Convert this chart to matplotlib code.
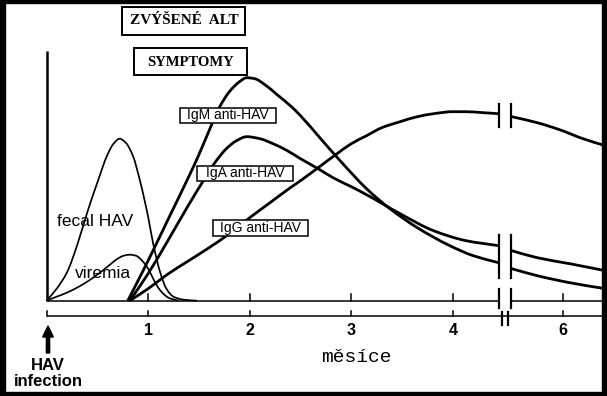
import numpy as np
import matplotlib
matplotlib.use("Agg")
import matplotlib.pyplot as plt
from matplotlib.path import Path
from matplotlib.patches import PathPatch, Rectangle, FancyArrow

# ---------------- data (x in months on the drawn axis, y in relative level) ---------------
fecal_x = [0, 0.1, 0.2, 0.3, 0.4, 0.5, 0.6, 0.66, 0.72, 0.78, 0.85, 0.92, 1.0, 1.05, 1.12, 1.18, 1.25, 1.35, 1.48]
fecal_y = [0, 12, 28, 55, 88, 118, 146, 157, 162, 158, 145, 120, 84, 57, 28, 12, 4, 1, 0]

viremia_x = [0, 0.1, 0.2, 0.3, 0.4, 0.5, 0.6, 0.7, 0.76, 0.82, 0.88, 0.95, 1.0, 1.05, 1.1, 1.15, 1.2, 1.3]
viremia_y = [0, 4, 8, 13, 19, 26, 34, 42, 45, 46, 45, 39, 32, 22, 13, 7, 3, 0]

igm_x = [0.8, 1.0, 1.2, 1.4, 1.5, 1.6, 1.7, 1.8, 1.9, 1.97, 2.05, 2.15, 2.27, 2.4, 2.5, 2.69, 2.89, 3.15, 3.38, 3.65, 3.97, 4.2, 4.45]
igm_y = [0, 40, 82, 124, 146, 170, 193, 209, 219, 223, 222, 216, 206, 195, 185, 163, 140, 112, 92, 73, 55, 45, 38]
igm2_x = [4.58, 4.83, 5.15, 5.5]
igm2_y = [32, 25, 18, 12]

iga_x = [0.82, 1.0, 1.2, 1.4, 1.55, 1.65, 1.77, 1.87, 1.97, 2.1, 2.23, 2.37, 2.5, 2.69, 2.82, 3.0, 3.15, 3.48, 3.81, 4.13, 4.45]
iga_y = [0, 27, 61, 96, 121, 137, 152, 160, 164, 162, 157, 150, 142, 131, 123, 114, 106, 87, 70, 60, 55]
iga2_x = [4.58, 4.83, 5.15, 5.5]
iga2_y = [50, 43, 37, 30]

igg_x = [0.82, 1.0, 1.2, 1.4, 1.6, 1.8, 2.0, 2.2, 2.4, 2.5, 2.7, 2.86, 3.0, 3.15, 3.3, 3.48, 3.65, 3.81, 4.0, 4.13, 4.3, 4.45]
igg_y = [0, 12, 27, 40, 53, 67, 83, 98, 113, 120, 135, 147, 157, 165, 173, 179, 184, 187, 189, 189, 188, 187]
igg2_x = [4.58, 4.83, 5.05, 5.28, 5.5]
igg2_y = [184, 178, 171, 162, 155]

tick_pos = [1, 2, 3, 4, 5.08]
tick_labels = ["1", "2", "3", "4", "6"]
break_left, break_right = 4.455, 4.57

# ---------------- layout helpers ----------------
W, H = 607, 396
X0, PPM, Y0 = 46.5, 101.6, 300.7   # pixel origin and pixels per month


def P(px, py):
    return (px - X0) / PPM, Y0 - py


fig = plt.figure(figsize=(W / 100, H / 100), dpi=100)
ax = fig.add_axes([0, 0, 1, 1])
ax.set_xlim(-X0 / PPM, (W - X0) / PPM)
ax.set_ylim(Y0 - H, Y0)
ax.axis("off")
fig.patch.set_facecolor("white")


def slopes(x, y):
    n = len(x)
    d = np.diff(y) / np.diff(x)
    s = np.zeros(n)
    s[0], s[-1] = d[0], d[-1]
    for i in range(1, n - 1):
        if d[i - 1] * d[i] <= 0:
            s[i] = 0.0
        else:
            h0, h1 = x[i] - x[i - 1], x[i + 1] - x[i]
            w1, w2 = 2 * h1 + h0, h1 + 2 * h0
            s[i] = (w1 + w2) / (w1 / d[i - 1] + w2 / d[i])
    return s


def smooth(xs, ys, lw):
    x = np.asarray(xs, float)
    y = np.asarray(ys, float)
    s = slopes(x, y)
    verts = [(x[0], y[0])]
    codes = [Path.MOVETO]
    for i in range(len(x) - 1):
        dx = x[i + 1] - x[i]
        verts += [(x[i] + dx / 3, y[i] + s[i] * dx / 3),
                  (x[i + 1] - dx / 3, y[i + 1] - s[i + 1] * dx / 3),
                  (x[i + 1], y[i + 1])]
        codes += [Path.CURVE4] * 3
    ax.add_patch(PathPatch(Path(verts, codes), fill=False, lw=lw, ec="black",
                           capstyle="butt", joinstyle="round", zorder=3))


smooth(fecal_x, fecal_y, 1.25)
smooth(viremia_x, viremia_y, 1.25)
for xs, ys in [(igm_x, igm_y), (igm2_x, igm2_y), (iga_x, iga_y), (iga2_x, iga2_y),
               (igg_x, igg_y), (igg2_x, igg2_y)]:
    smooth(xs, ys, 2.0)

# axes lines
x_end = (W - X0) / PPM
ax.plot([0, break_left], [0, 0], color="black", lw=1.1, solid_capstyle="butt")
ax.plot([break_right, x_end], [0, 0], color="black", lw=1.1, solid_capstyle="butt")
ax.plot([0, 0], [0, 250], color="black", lw=1.8, solid_capstyle="butt")
base2 = -15.5
ax.plot([0, x_end], [base2, base2], color="black", lw=1.1, solid_capstyle="butt")

for t in tick_pos:
    ax.plot([t, t], [0, 7], color="black", lw=1.1)
for t in [0] + tick_pos:
    ax.plot([t, t], [base2, base2 + 5], color="black", lw=1.1)
for t, lab in zip(tick_pos, tick_labels):
    ax.text(t, -30, lab, ha="center", va="center", fontsize=11.5, fontweight="bold",
            family="Liberation Sans")

# break marks
for bx in [break_left, break_right]:
    ax.plot([bx, bx], [174, 197], color="black", lw=1.6)
    ax.plot([bx, bx], [23, 66], color="black", lw=1.6)
    ax.plot([bx, bx], [-7, 12], color="black", lw=1.6)
for bx in [4.485, 4.545]:
    ax.plot([bx, bx], [-11, -24], color="black", lw=1.6)

# arrow
ax_x, ay0 = P(48, 353)
_, ay1 = P(48, 326)
ax.add_patch(FancyArrow(ax_x, ay0, 0, ay1 - ay0, width=0.032, head_width=0.105,
                        head_length=11, length_includes_head=True, color="black"))


def box(x0, y0, x1, y1, lw=1.1):
    a = P(x0, y1)
    ax.add_patch(Rectangle(a, (x1 - x0) / PPM, (y1 - y0), fill=True, fc="white",
                           ec="black", lw=lw, zorder=4))


def txt(px, py, s, **kw):
    x, y = P(px, py)
    ax.text(x, y, s, ha="center", va="center", zorder=5, **kw)


box(122, 7, 245, 35, 1.4)
txt(184, 21, "ZVÝŠENÉ  ALT", fontsize=11, fontweight="bold", family="Liberation Serif")
box(134, 48, 247, 75, 1.4)
txt(190, 62, "SYMPTOMY", fontsize=10.5, fontweight="bold", family="Liberation Serif")

box(180, 108, 276, 123)
txt(228, 115.5, "IgM anti-HAV", fontsize=10, family="Liberation Sans")
box(197, 166, 293, 181)
txt(245, 173.5, "IgA anti-HAV", fontsize=10, family="Liberation Sans")
box(213, 220, 308, 236)
txt(260.5, 228, "IgG anti-HAV", fontsize=10, family="Liberation Sans")

txt(95, 222, "fecal HAV", fontsize=12.5, family="Liberation Sans")
txt(103, 274, "viremia", fontsize=12.5, family="Liberation Sans")

txt(356, 357, "měsíce", fontsize=14, family="Liberation Mono")
txt(48, 366, "HAV", fontsize=12, fontweight="bold", family="Liberation Sans")
txt(48, 382, "infection", fontsize=12, fontweight="bold", family="Liberation Sans")

# black frame
for (x, y, w, h) in [(0, 0, 4.5, H), (W - 5, 0, 5, H), (0, 0, W, 2.5), (0, H - 4.5, W, 4.5)]:
    fig.add_artist(Rectangle((x / W, 1 - (y + h) / H), w / W, h / H,
                             transform=fig.transFigure, color="black", zorder=10))

fig.savefig("out.png", dpi=100)
